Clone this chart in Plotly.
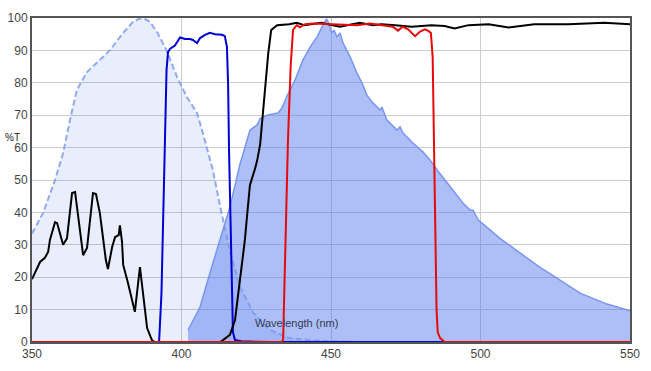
import plotly.graph_objects as go

# Excitation spectrum (light dashed, filled)
ex_nm = [350, 353.7, 357.7, 360.4, 362.7, 365, 368.4, 372.7, 376, 380.4, 383.8, 386, 388, 389.5,
         392, 395, 398.5, 401.8, 405.2, 407, 408.5, 410.5, 412.9, 416.2, 419.6, 424, 429.6, 436,
         444, 450, 460]
ex_T = [33.5, 39.8, 50, 58.3, 68.5, 77.8, 83.3, 87, 90, 95.3, 98.8, 99.8, 99.6, 98.8,
        95.4, 90, 81.8, 75.6, 70.7, 65, 60, 53, 42, 28, 17, 9, 3.7, 1.2,
        0.5, 0.2, 0]

# Emission spectrum (filled blue)
em_nm = [402.2, 406.2, 409.5, 412.9, 416.2, 419.6, 421.9, 422.9, 425.3, 426.3, 428.6, 432.3,
         433.6, 435.3, 438, 440.6, 443, 445.3, 447.3, 448.5, 449.2, 450.3, 451, 452, 453, 454,
         456.4, 458.7, 460.4, 462, 464, 466.4, 467, 468.7, 472.1, 473.1, 474.1, 477.4, 480.8,
         483.1, 485.5, 488.8, 490.8, 494.1, 496.5, 497.5, 499.2, 506.5, 513.2, 519.9, 526.6,
         533.3, 542.3, 550]
em_T = [3.7, 10.8, 21.3, 31.5, 41.7, 55, 62, 65.4, 67, 69, 70, 70.7,
        72.2, 76, 80.9, 87, 91, 94.1, 97.8, 99.6, 98.5, 95.4, 96.3, 94.1, 95.4, 92.3,
        88, 83, 79.9, 76.2, 73.8, 71.6, 72.5, 68.5, 65.4, 66.4, 64.5, 61.4, 58.6,
        56.2, 53.1, 49.1, 46.9, 42.9, 40.7, 40.7, 37.7, 32, 27.5, 23, 19.1,
        15.1, 11.7, 9.6]

# Excitation filter (blue line)
bl_nm = [390, 392.5, 393.3, 393.9, 394.5, 395, 395.5, 396.2, 397.8, 399.5, 401.2, 402.8, 403.8,
         405.2, 406.2, 407.9, 409.5, 411.2, 413.5, 414.5, 415.2, 415.6, 415.9, 416.9, 417.2,
         417.9, 420, 430, 488]
bl_T = [0, 0, 15, 40, 70, 84, 89.5, 90.5, 91.5, 94, 93.5, 93.5, 93.2,
        92.3, 93.8, 94.8, 95.4, 95, 94.8, 94.4, 91, 79, 59, 21, 3,
        0.6, 0.2, 0, 0]

# Dichroic (black line)
bk_nm = [350, 352.7, 354.3, 355.4, 356, 357.7, 358.4, 360.4, 361.7, 363.4, 364.4, 367.1, 368.4,
         370.4, 371.4, 372.7, 374.7, 375.4, 376.8, 377.8, 379, 379.4, 380.1, 380.5, 382.1, 384.4,
         386.1, 388.5, 390.1, 391, 413, 413.9, 416.2, 417.9, 419.6, 421.2, 422.2, 422.9, 424.6,
         425.3, 426.3, 427.6, 429, 430, 432, 436, 438.6, 441, 446.7, 453, 459.6, 464, 466.9,
         471.5, 477, 483.6, 488, 491.3, 496, 502.7, 509.4, 518, 529.4, 541.4, 550]
bk_T = [19.4, 24.7, 26, 27.8, 31.5, 37, 36.7, 30, 32, 46, 46.3, 26.8, 29,
        46, 45.7, 39.8, 25.3, 22.5, 29.3, 32.4, 33, 36, 31, 23.8, 18.2, 9.3,
        23.1, 4.3, 0.6, 0, 0, 0.6, 2.2, 6.8, 19, 31.5, 41.7, 48.5, 53.5,
        56, 61, 74, 89, 96.3, 97.8, 98.1, 98.5, 97.8, 98.5, 97.3, 98.5, 97.8, 98.1,
        97.8, 97.3, 97.8, 97.5, 96.8, 97.8, 98.1, 97.1, 98.1, 98.1, 98.5, 98.1]

# Emission filter (red line)
rd_nm = [350, 433.6, 434, 435.6, 436.5, 437.3, 438, 438.6, 439.6, 441.3, 444, 448.7, 453, 458.7,
         463, 467.4, 470.7, 472.4, 474, 475.8, 478.1, 479.8, 481.4, 482.4, 483.4, 484, 484.5,
         484.8, 485.3, 485.7, 486.5, 488, 550]
rd_T = [0, 0, 1, 62, 85, 96.3, 97.2, 97.8, 97.1, 98.1, 98.3, 98.1, 98.1, 97.8,
        98.3, 97.8, 97.3, 96.1, 97.3, 96.5, 94.4, 95.8, 96.5, 96.1, 95.4, 88, 60,
        38, 10, 3, 1.2, 0, 0]

x_ticks = [350, 400, 450, 500, 550]
y_ticks = list(range(0, 101, 10))

fig = go.Figure()
fig.add_trace(go.Scatter(x=ex_nm, y=ex_T, mode="lines", fill="tozeroy",
                         fillcolor="rgba(80,120,235,0.13)", line=dict(width=0),
                         hoverinfo="skip"))
fig.add_trace(go.Scatter(x=em_nm, y=em_T, mode="lines", fill="tozeroy",
                         fillcolor="rgba(80,120,235,0.47)",
                         line=dict(color="rgb(120,150,240)", width=1.5)))
fig.add_trace(go.Scatter(x=ex_nm, y=ex_T, mode="lines",
                         line=dict(color="rgba(120,150,238,0.8)", width=2, dash="6px,3px")))
fig.add_trace(go.Scatter(x=bl_nm, y=bl_T, mode="lines",
                         line=dict(color="rgb(0,0,210)", width=2)))
fig.add_trace(go.Scatter(x=bk_nm, y=bk_T, mode="lines",
                         line=dict(color="black", width=2)))
fig.add_trace(go.Scatter(x=rd_nm, y=rd_T, mode="lines", cliponaxis=False,
                         line=dict(color="rgb(230,10,10)", width=2)))

fig.add_annotation(x=438.3, y=6, xref="x", yref="y", text="Wavelength (nm)",
                   showarrow=False, font=dict(family="Arial", size=11, color="#333a55"))
fig.add_annotation(x=-0.0485, y=0.63, xref="paper", yref="paper", text="%T",
                   showarrow=False, xanchor="left", yanchor="middle",
                   font=dict(family="Arial", size=10, color="#222"))

axis_common = dict(showgrid=True, gridcolor="#cccccc", gridwidth=1, zeroline=False,
                   showline=True, linecolor="#555555", linewidth=2, mirror=True,
                   ticks="", layer="below traces", automargin=False,
                   tickfont=dict(family="Arial", size=12, color="#444444"))
fig.update_layout(
    width=651, height=371,
    margin=dict(l=32, r=21, t=18, b=29, autoexpand=False),
    paper_bgcolor="white", plot_bgcolor="white",
    showlegend=False,
    xaxis=dict(range=[350, 550], tickvals=x_ticks, **axis_common),
    yaxis=dict(range=[0, 100], tickvals=y_ticks, **axis_common),
)
fig.write_html("out.html", config={"displayModeBar": False},
               post_script="document.body.style.margin='0';document.body.style.overflow='hidden';")
